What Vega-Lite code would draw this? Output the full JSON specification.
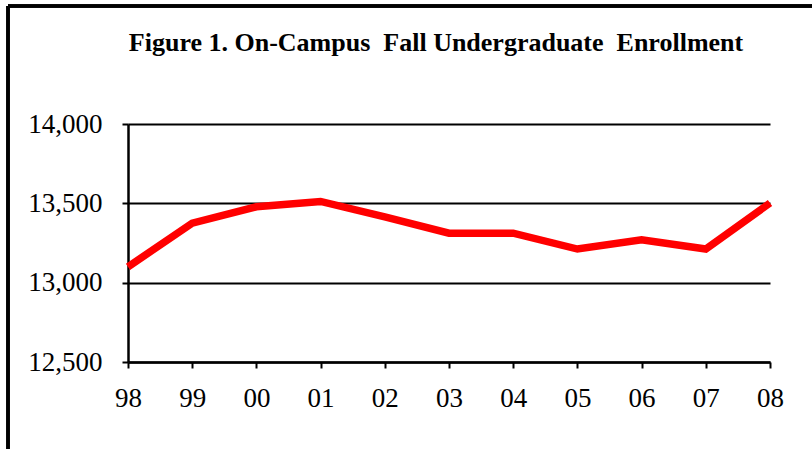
{
  "$schema": "https://vega.github.io/schema/vega-lite/v6.json",
  "width": 642,
  "height": 238,
  "autosize": {"type": "none"},
  "padding": {"left": 128, "top": 124, "right": 42, "bottom": 87},
  "background": "white",
  "title": {
    "text": "Figure 1. On-Campus \u00a0Fall Undergraduate \u00a0Enrollment",
    "font": "Liberation Serif",
    "fontSize": 26,
    "fontWeight": "bold",
    "color": "black",
    "anchor": "middle",
    "frame": "group",
    "baseline": "bottom",
    "offset": -77,
    "dx": -13
  },
  "config": {
    "view": {"stroke": null},
    "axis": {
      "labelFont": "Liberation Serif",
      "labelFontSize": 27,
      "labelColor": "black",
      "domainColor": "black",
      "tickColor": "black",
      "gridColor": "black",
      "domainWidth": 2.5,
      "tickWidth": 2,
      "gridWidth": 2,
      "tickSize": 6,
      "title": null
    }
  },
  "data": {
    "values": [
      {"year": 1998, "enrollment": 13100},
      {"year": 1999, "enrollment": 13375},
      {"year": 2000, "enrollment": 13478},
      {"year": 2001, "enrollment": 13512},
      {"year": 2002, "enrollment": 13415},
      {"year": 2003, "enrollment": 13312},
      {"year": 2004, "enrollment": 13312},
      {"year": 2005, "enrollment": 13212},
      {"year": 2006, "enrollment": 13270},
      {"year": 2007, "enrollment": 13212},
      {"year": 2008, "enrollment": 13502}
    ]
  },
  "layer": [
    {
      "mark": {"type": "line", "color": "#ff0000", "strokeWidth": 7.5, "strokeJoin": "miter", "clip": false},
      "encoding": {
        "x": {
          "field": "year",
          "type": "quantitative",
          "scale": {"domain": [1998, 2008], "nice": false, "zero": false},
          "axis": {
            "values": [1998, 1999, 2000, 2001, 2002, 2003, 2004, 2005, 2006, 2007, 2008],
            "labelExpr": "slice(toString(datum.value), 2)",
            "grid": false,
            "labelPadding": 17,
            "labelFlush": false,
            "labelOverlap": false
          }
        },
        "y": {
          "field": "enrollment",
          "type": "quantitative",
          "scale": {"domain": [12500, 14000], "nice": false, "zero": false},
          "axis": {
            "values": [12500, 13000, 13500, 14000],
            "format": ",d",
            "grid": true,
            "labelPadding": 20,
            "labelFlush": false,
            "labelOverlap": false
          }
        }
      }
    },
    {
      "mark": {"type": "rule", "color": "black", "strokeWidth": 2.5, "clip": false},
      "encoding": {
        "x": {"datum": 1996.131, "type": "quantitative"},
        "x2": {"datum": 2009.5},
        "y": {"datum": 14744, "type": "quantitative"}
      }
    },
    {
      "mark": {"type": "rule", "color": "black", "strokeWidth": 2.5, "clip": false},
      "encoding": {
        "x": {"datum": 1996.131, "type": "quantitative"},
        "y": {"datum": 14744, "type": "quantitative"},
        "y2": {"datum": 11800}
      }
    }
  ]
}
